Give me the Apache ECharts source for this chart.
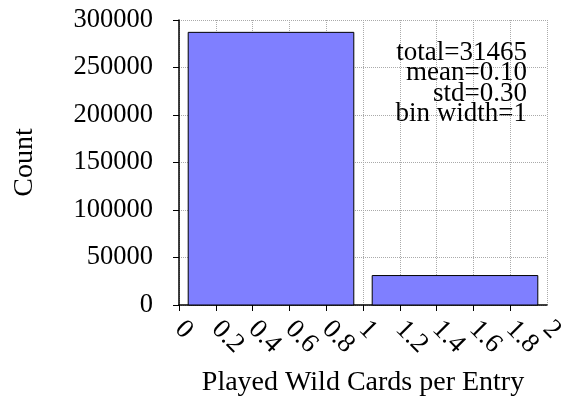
<!DOCTYPE html>
<html>
<head>
<meta charset="utf-8">
<script src="https://cdn.jsdelivr.net/npm/echarts@6/dist/echarts.min.js"></script>
<style>
html,body{margin:0;padding:0;background:#fff;}
#chart{width:571px;height:405px;}
</style>
</head>
<body>
<div id="chart"></div>
<script>
// Data
var binStarts = [0, 1];
var binWidth = 1;
var counts = [287000, 31000];
var xTicks = [0, 0.2, 0.4, 0.6, 0.8, 1, 1.2, 1.4, 1.6, 1.8, 2];
var yTicks = [0, 50000, 100000, 150000, 200000, 250000, 300000];
var statsLines = ['total=31465', 'mean=0.10', 'std=0.30', 'bin width=1'];
var xTitle = 'Played Wild Cards per Entry';
var yTitle = 'Count';

var FONT = '"Liberation Serif", "DejaVu Serif", serif';
var seriesData = binStarts.map(function (s, i) { return [s, s + binWidth, counts[i]]; });
var xMin = xTicks[0], xMax = xTicks[xTicks.length - 1];
function fmtX(v) { return String(+v.toFixed(1)); }
var xLabelStyle = {fontFamily: FONT, fontSize: 27, color: '#000', rotate: -45, margin: 20};

var chart = echarts.init(document.getElementById('chart'), null, {renderer: 'canvas'});
chart.setOption({
  animation: false,
  backgroundColor: '#fff',
  grid: {left: 179, right: 24, top: 20, bottom: 100, containLabel: false},
  xAxis: [{
    type: 'value',
    min: xMin, max: xMax, interval: 0.2,
    name: xTitle, nameLocation: 'middle', nameGap: 64,
    nameTextStyle: {fontFamily: FONT, fontSize: 28, color: '#000'},
    axisLine: {show: true, onZero: false, lineStyle: {color: '#000', width: 1.5}},
    axisTick: {show: true, inside: false, length: 6, lineStyle: {color: '#000', width: 1}},
    axisLabel: Object.assign({}, xLabelStyle, {
      showMinLabel: true, showMaxLabel: false, formatter: fmtX
    }),
    splitLine: {show: true, lineStyle: {color: '#aaa', type: 'dotted', width: 1}}
  }, {
    // second, label-only axis so the max tick label "2" is shown
    type: 'value', position: 'bottom', offset: 0,
    min: xMin, max: xMax, interval: 0.2,
    axisLine: {show: false}, axisTick: {show: false}, splitLine: {show: false},
    axisLabel: Object.assign({}, xLabelStyle, {
      showMinLabel: false, showMaxLabel: true,
      formatter: function (v) { return Math.abs(v - xMax) < 1e-9 ? fmtX(v) : ''; }
    })
  }],
  yAxis: {
    type: 'value',
    min: yTicks[0], max: yTicks[yTicks.length - 1], interval: 50000,
    name: yTitle, nameLocation: 'middle', nameGap: 140, nameRotate: 90,
    nameTextStyle: {fontFamily: FONT, fontSize: 28, color: '#000'},
    axisLine: {show: true, onZero: false, lineStyle: {color: '#000', width: 1.5}},
    axisTick: {show: true, inside: false, length: 6, lineStyle: {color: '#000', width: 1}},
    axisLabel: {
      fontFamily: FONT, fontSize: 26.5, color: '#000', margin: 26,
      showMinLabel: true, showMaxLabel: true,
      formatter: function (v) { return String(v); }
    },
    splitLine: {show: true, lineStyle: {color: '#aaa', type: 'dotted', width: 1}}
  },
  series: [{
    type: 'custom',
    xAxisIndex: 0,
    data: seriesData,
    encode: {x: [0, 1], y: 2},
    renderItem: function (params, api) {
      var s = api.value(0), e = api.value(1), c = api.value(2);
      var gap = 0.05 * (e - s);
      var p0 = api.coord([s + gap, c]);
      var p1 = api.coord([e - gap, 0]);
      return {
        type: 'rect',
        shape: {x: p0[0], y: p0[1], width: p1[0] - p0[0], height: p1[1] - p0[1]},
        style: {fill: '#7f7fff', stroke: '#000', lineWidth: 1}
      };
    },
    z: 3
  }],
  graphic: statsLines.map(function (t, i) {
    return {
      type: 'text', right: 44, top: 39 + i * 20.5, z: 10,
      style: {text: t, fontFamily: FONT, fontSize: 27, fill: '#000', textAlign: 'right'}
    };
  })
});
</script>
</body>
</html>
